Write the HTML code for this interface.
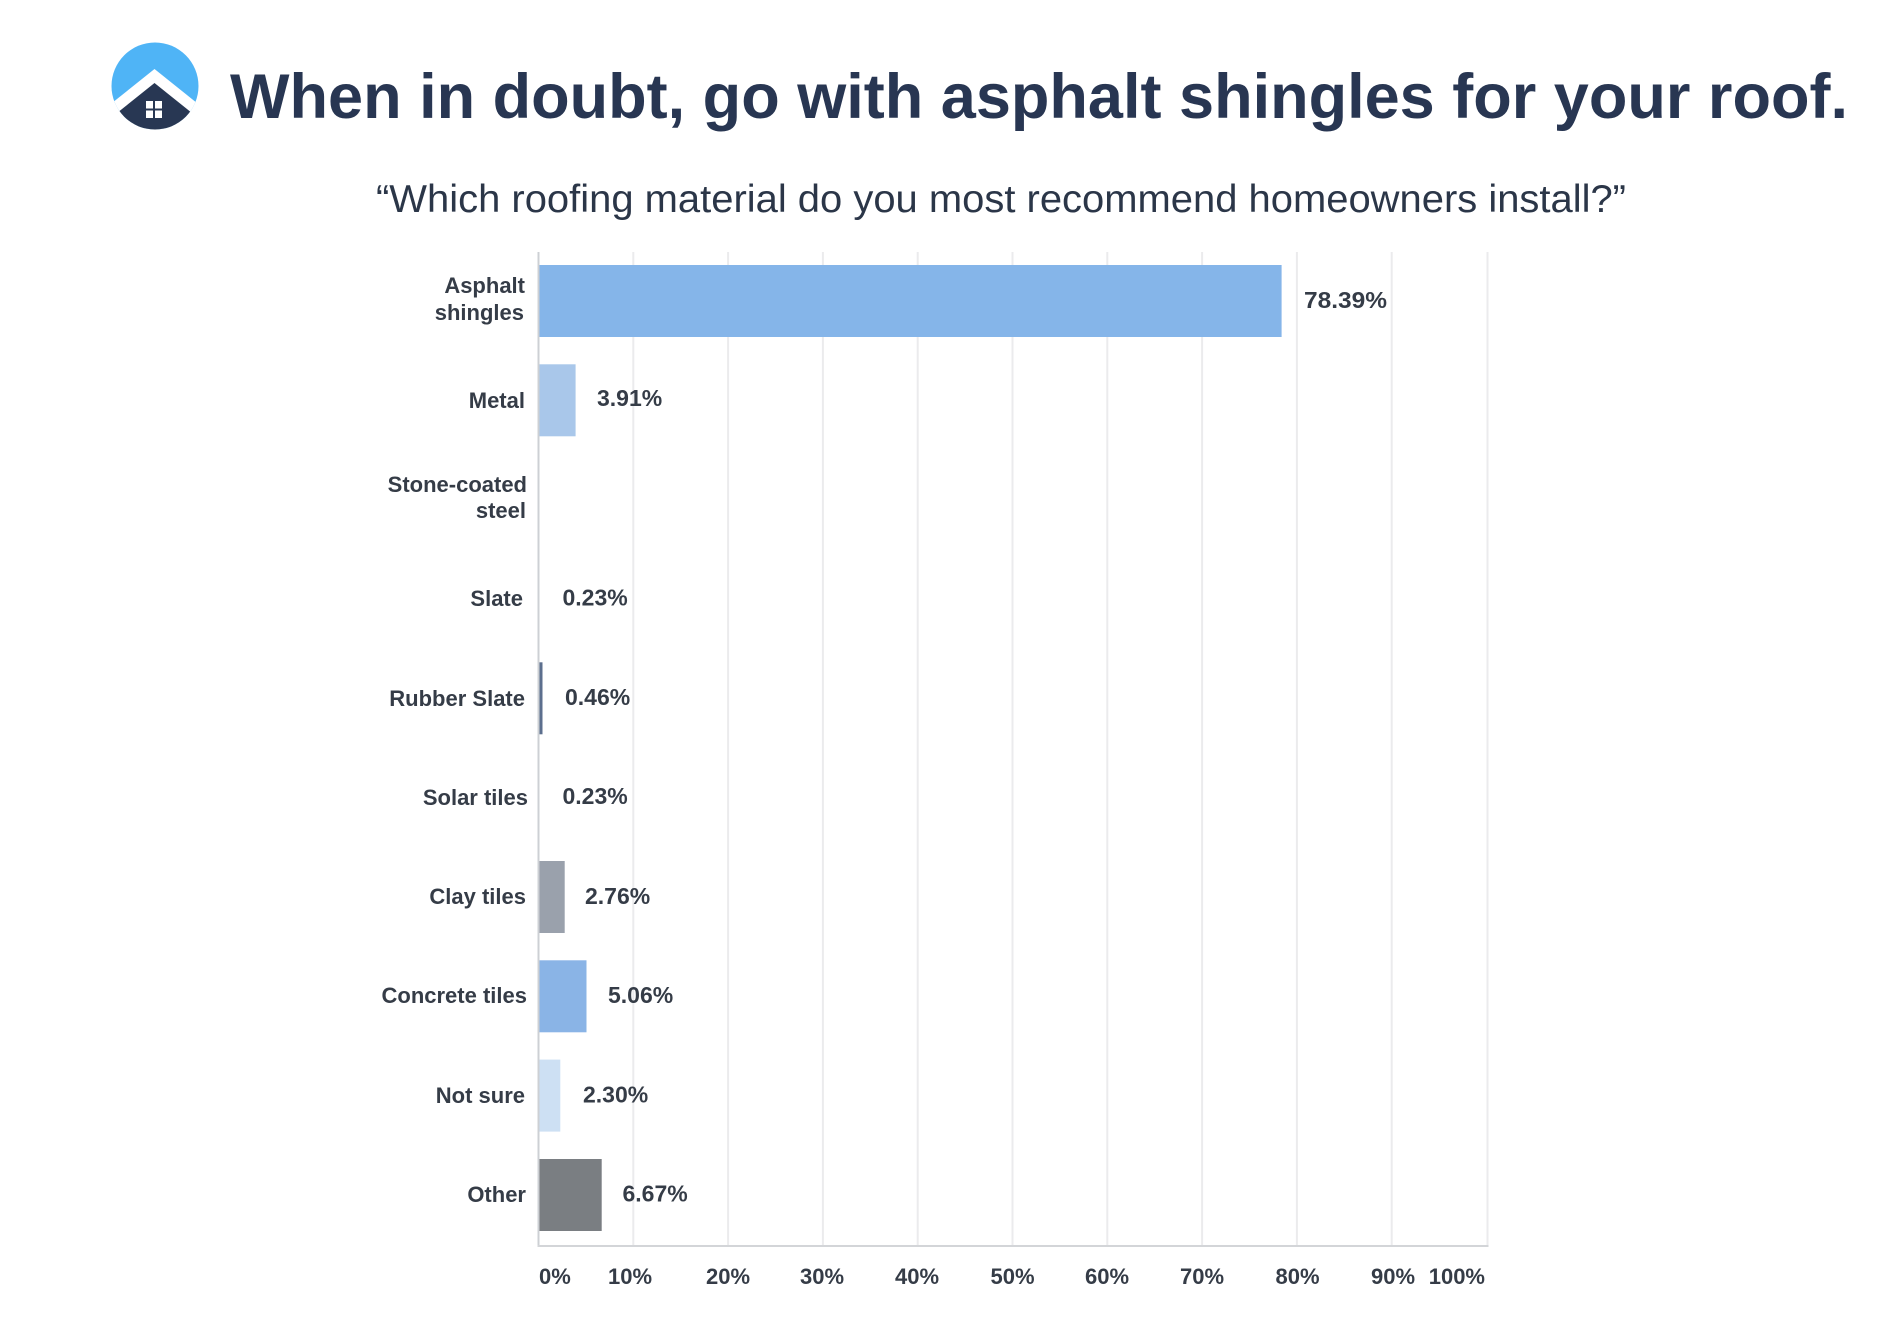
<!DOCTYPE html>
<html>
<head>
<meta charset="utf-8">
<style>
html,body{margin:0;padding:0;background:#fff;}
svg{display:block;}
</style>
</head>
<body>
<svg width="1898" height="1338" viewBox="0 0 1898 1338" xmlns="http://www.w3.org/2000/svg">
<rect width="1898" height="1338" fill="#ffffff"/>
<defs>
<clipPath id="lc"><circle cx="155" cy="86" r="43.5"/></clipPath>
</defs>
<!-- logo -->
<g clip-path="url(#lc)">
<rect x="100" y="30" width="110" height="110" fill="#4fb4f6"/>
<polygon points="154.5,69 244.5,141 64.5,141" fill="#ffffff"/>
<polygon points="154.5,83 244.5,155 64.5,155" fill="#283753"/>
</g>
<rect x="146" y="101" width="7" height="7.5" fill="#fff"/>
<rect x="155" y="101" width="7" height="7.5" fill="#fff"/>
<rect x="146" y="110.5" width="7" height="7.5" fill="#fff"/>
<rect x="155" y="110.5" width="7" height="7.5" fill="#fff"/>

<!-- title -->
<text x="230" y="118" font-family="Liberation Sans, Arial, sans-serif" font-weight="bold" font-size="63" fill="#283652" textLength="1618" lengthAdjust="spacingAndGlyphs">When in doubt, go with asphalt shingles for your roof.</text>
<text x="376" y="212" font-family="Liberation Sans, Arial, sans-serif" font-size="39" fill="#2b3648" textLength="1250" lengthAdjust="spacingAndGlyphs">“Which roofing material do you most recommend homeowners install?”</text>

<!-- gridlines -->
<g stroke="#ebebed" stroke-width="2">
<line x1="633.3" y1="252" x2="633.3" y2="1246"/>
<line x1="728.1" y1="252" x2="728.1" y2="1246"/>
<line x1="822.9" y1="252" x2="822.9" y2="1246"/>
<line x1="917.7" y1="252" x2="917.7" y2="1246"/>
<line x1="1012.5" y1="252" x2="1012.5" y2="1246"/>
<line x1="1107.3" y1="252" x2="1107.3" y2="1246"/>
<line x1="1202.1" y1="252" x2="1202.1" y2="1246"/>
<line x1="1296.9" y1="252" x2="1296.9" y2="1246"/>
<line x1="1391.7" y1="252" x2="1391.7" y2="1246"/>
<line x1="1487.5" y1="252" x2="1487.5" y2="1246"/>
</g>
<!-- axes -->
<line x1="538.5" y1="252" x2="538.5" y2="1247" stroke="#cdd0d4" stroke-width="2"/>
<line x1="537.5" y1="1246" x2="1488.5" y2="1246" stroke="#d3d5d8" stroke-width="2"/>

<!-- bars -->
<rect x="539.5" y="265" width="742.1" height="72" fill="#85b5e9"/>
<rect x="539.5" y="364.3" width="36.1" height="72" fill="#a9c7ea"/>
<rect x="539.5" y="662.3" width="3" height="72" fill="#5c6f8e"/>
<rect x="539.5" y="861" width="25.2" height="72" fill="#9aa1ac"/>
<rect x="539.5" y="960.3" width="47" height="72" fill="#8ab4e6"/>
<rect x="539.5" y="1059.6" width="20.8" height="72" fill="#cde0f3"/>
<rect x="539.5" y="1159" width="62.2" height="72" fill="#7a7e82"/>

<!-- category labels -->
<g font-family="Liberation Sans, Arial, sans-serif" font-weight="bold" font-size="22" fill="#353c47" text-anchor="end">
<text x="525" y="293">Asphalt</text>
<text x="524" y="320">shingles</text>
<text x="525" y="408">Metal</text>
<text x="527" y="492">Stone-coated</text>
<text x="526" y="518">steel</text>
<text x="523" y="606">Slate</text>
<text x="525" y="706">Rubber Slate</text>
<text x="528" y="805">Solar tiles</text>
<text x="526" y="904">Clay tiles</text>
<text x="527" y="1003">Concrete tiles</text>
<text x="525" y="1103">Not sure</text>
<text x="526" y="1202">Other</text>
</g>

<!-- value labels -->
<g font-family="Liberation Sans, Arial, sans-serif" font-weight="bold" font-size="23" fill="#353c47">
<text x="1304" y="308" textLength="83" lengthAdjust="spacingAndGlyphs">78.39%</text>
<text x="597" y="406">3.91%</text>
<text x="562.5" y="605.5">0.23%</text>
<text x="565" y="705">0.46%</text>
<text x="562.5" y="804">0.23%</text>
<text x="585" y="904">2.76%</text>
<text x="608" y="1003">5.06%</text>
<text x="583" y="1102.5">2.30%</text>
<text x="622.5" y="1201.5">6.67%</text>
</g>

<!-- x tick labels -->
<g font-family="Liberation Sans, Arial, sans-serif" font-weight="bold" font-size="22" fill="#353c47" text-anchor="middle">
<text x="539" y="1284" text-anchor="start">0%</text>
<text x="630" y="1284">10%</text>
<text x="728" y="1284">20%</text>
<text x="822" y="1284">30%</text>
<text x="917" y="1284">40%</text>
<text x="1012.5" y="1284">50%</text>
<text x="1107" y="1284">60%</text>
<text x="1202" y="1284">70%</text>
<text x="1297.5" y="1284">80%</text>
<text x="1393" y="1284">90%</text>
<text x="1485" y="1284" text-anchor="end">100%</text>
</g>
</svg>
</body>
</html>
